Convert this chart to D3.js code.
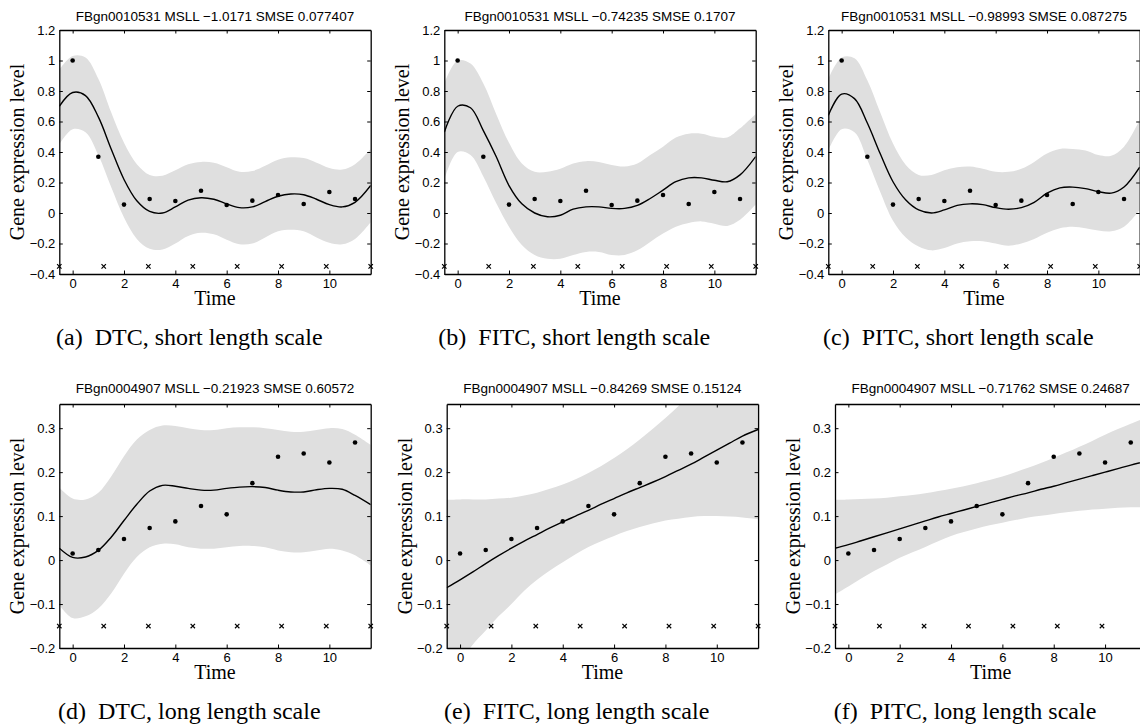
<!DOCTYPE html>
<html>
<head>
<meta charset="utf-8">
<script src="https://cdn.jsdelivr.net/npm/d3@7"></script>
<style>
  body { margin: 0; background: #fff; }
  svg { display: block; }
</style>
</head>
<body>
<script>
// observed gene expression, time points 0..11
var times = [0, 1, 2, 3, 4, 5, 6, 7, 8, 9, 10, 11];
var shortObs = [1.0, 0.369, 0.055, 0.092, 0.079, 0.146, 0.052, 0.081, 0.118, 0.059, 0.138, 0.092];
var longObs = [0.015, 0.023, 0.048, 0.073, 0.088, 0.123, 0.104, 0.175, 0.235, 0.2425, 0.222, 0.2675];

// inducing inputs (crosses)
var inducingX = [-0.52, 1.21, 2.95, 4.68, 6.41, 8.14, 9.88, 11.61];
var shortInducingY = -0.35;
var longInducingY = -0.15;

// grid the predictive curves were read on
var gridT = [-0.52, 0, 0.5, 1, 1.5, 2, 2.5, 3, 3.5, 4, 4.5, 5, 5.5, 6, 6.5, 7, 7.5, 8, 8.5, 9, 9.5, 10, 10.5, 11, 11.61];

var dtcShortMean  = [0.70, 0.79, 0.77, 0.63, 0.42, 0.22, 0.08, 0.01, 0.0, 0.04, 0.085, 0.10, 0.09, 0.06, 0.035, 0.04, 0.075, 0.11, 0.125, 0.12, 0.09, 0.055, 0.04, 0.07, 0.18];
var dtcShortUpper = [0.94, 1.03, 1.02, 0.88, 0.66, 0.46, 0.32, 0.25, 0.245, 0.28, 0.32, 0.335, 0.33, 0.30, 0.27, 0.275, 0.31, 0.35, 0.365, 0.36, 0.33, 0.295, 0.285, 0.32, 0.42];
var dtcShortLower = [0.45, 0.55, 0.53, 0.38, 0.17, -0.03, -0.17, -0.235, -0.24, -0.20, -0.15, -0.13, -0.14, -0.175, -0.205, -0.20, -0.16, -0.12, -0.11, -0.12, -0.16, -0.195, -0.205, -0.17, -0.06];

var fitcShortMean  = [0.53, 0.70, 0.69, 0.54, 0.37, 0.18, 0.06, 0.0, -0.025, -0.015, 0.025, 0.04, 0.04, 0.03, 0.03, 0.05, 0.095, 0.15, 0.205, 0.23, 0.23, 0.215, 0.205, 0.25, 0.37];
var fitcShortUpper = [0.85, 1.0, 0.98, 0.85, 0.65, 0.46, 0.325, 0.27, 0.27, 0.29, 0.325, 0.34, 0.335, 0.315, 0.305, 0.325, 0.38, 0.435, 0.495, 0.52, 0.52, 0.50, 0.495, 0.555, 0.65];
var fitcShortLower = [0.22, 0.40, 0.38, 0.24, 0.065, -0.09, -0.21, -0.275, -0.30, -0.30, -0.275, -0.255, -0.255, -0.275, -0.275, -0.245, -0.19, -0.135, -0.09, -0.065, -0.055, -0.07, -0.085, -0.045, 0.055];

var pitcShortMean  = [0.64, 0.78, 0.75, 0.59, 0.39, 0.205, 0.085, 0.02, 0.0, 0.02, 0.05, 0.06, 0.055, 0.035, 0.025, 0.035, 0.07, 0.13, 0.165, 0.17, 0.16, 0.14, 0.13, 0.17, 0.30];
var pitcShortUpper = [0.88, 1.02, 1.015, 0.87, 0.66, 0.455, 0.315, 0.25, 0.25, 0.28, 0.30, 0.305, 0.29, 0.27, 0.27, 0.29, 0.335, 0.39, 0.42, 0.42, 0.41, 0.38, 0.375, 0.435, 0.61];
var pitcShortLower = [0.41, 0.55, 0.53, 0.35, 0.14, -0.05, -0.16, -0.22, -0.245, -0.23, -0.20, -0.185, -0.185, -0.20, -0.215, -0.20, -0.17, -0.13, -0.10, -0.09, -0.10, -0.115, -0.12, -0.09, 0.02];

var dtcLongMean  = [0.027, 0.006, 0.007, 0.022, 0.052, 0.09, 0.127, 0.157, 0.17, 0.168, 0.163, 0.159, 0.159, 0.163, 0.166, 0.167, 0.165, 0.159, 0.155, 0.155, 0.16, 0.163, 0.161, 0.147, 0.126];
var dtcLongUpper = [0.165, 0.14, 0.138, 0.153, 0.19, 0.236, 0.274, 0.296, 0.306, 0.305, 0.30, 0.296, 0.296, 0.30, 0.302, 0.302, 0.30, 0.296, 0.292, 0.292, 0.296, 0.30, 0.298, 0.285, 0.262];
var dtcLongLower = [-0.102, -0.132, -0.128, -0.11, -0.076, -0.031, 0.007, 0.029, 0.037, 0.036, 0.029, 0.026, 0.026, 0.029, 0.032, 0.032, 0.029, 0.022, 0.018, 0.018, 0.022, 0.026, 0.022, 0.011, -0.012];

var fitcLongMean  = [-0.063, -0.045, -0.027, -0.008, 0.01, 0.027, 0.043, 0.058, 0.073, 0.087, 0.10, 0.113, 0.127, 0.14, 0.153, 0.165, 0.177, 0.19, 0.204, 0.218, 0.234, 0.25, 0.266, 0.282, 0.297];
var fitcLongUpper = [0.137, 0.138, 0.138, 0.138, 0.14, 0.142, 0.147, 0.153, 0.162, 0.172, 0.184, 0.198, 0.214, 0.232, 0.252, 0.274, 0.298, 0.323, 0.35, 0.377, 0.405, 0.433, 0.46, 0.49, 0.525];
var fitcLongLower = [-0.29, -0.235, -0.192, -0.16, -0.128, -0.1, -0.07, -0.045, -0.024, -0.005, 0.013, 0.03, 0.043, 0.055, 0.066, 0.075, 0.083, 0.09, 0.094, 0.098, 0.1, 0.1, 0.099, 0.097, 0.093];

var pitcLongMean  = [0.027, 0.035, 0.044, 0.053, 0.062, 0.071, 0.08, 0.089, 0.098, 0.106, 0.114, 0.122, 0.13, 0.138, 0.146, 0.153, 0.161, 0.168, 0.176, 0.184, 0.192, 0.2, 0.208, 0.216, 0.225];
var pitcLongUpper = [0.137, 0.138, 0.139, 0.14, 0.142, 0.145, 0.148, 0.152, 0.157, 0.162, 0.168, 0.175, 0.182, 0.19, 0.2, 0.21, 0.221, 0.233, 0.245, 0.258, 0.271, 0.285, 0.298, 0.31, 0.325];
var pitcLongLower = [-0.078, -0.06, -0.042, -0.025, -0.01, 0.005, 0.018, 0.03, 0.043, 0.055, 0.064, 0.072, 0.079, 0.085, 0.091, 0.097, 0.101, 0.105, 0.109, 0.112, 0.115, 0.117, 0.119, 0.12, 0.12];

var xTicks = [0, 2, 4, 6, 8, 10];
var yTicksShort = [-0.4, -0.2, 0, 0.2, 0.4, 0.6, 0.8, 1, 1.2];
var yTicksLong = [-0.2, -0.1, 0, 0.1, 0.2, 0.3];

var titles = [
  "FBgn0010531 MSLL \u22121.0171 SMSE 0.077407",
  "FBgn0010531 MSLL \u22120.74235 SMSE 0.1707",
  "FBgn0010531 MSLL \u22120.98993 SMSE 0.087275",
  "FBgn0004907 MSLL \u22120.21923 SMSE 0.60572",
  "FBgn0004907 MSLL \u22120.84269 SMSE 0.15124",
  "FBgn0004907 MSLL \u22120.71762 SMSE 0.24687"
];
var captionTags = ["(a)", "(b)", "(c)", "(d)", "(e)", "(f)"];
var captions = [
  "DTC, short length scale", "FITC, short length scale", "PITC, short length scale",
  "DTC, long length scale", "FITC, long length scale", "PITC, long length scale"
];

var means  = [dtcShortMean, fitcShortMean, pitcShortMean, dtcLongMean, fitcLongMean, pitcLongMean];
var uppers = [dtcShortUpper, fitcShortUpper, pitcShortUpper, dtcLongUpper, fitcLongUpper, pitcLongUpper];
var lowers = [dtcShortLower, fitcShortLower, pitcShortLower, dtcLongLower, fitcLongLower, pitcLongLower];

// layout
var plotW = 311.4, plotH = 244;
var rowTops = [30, 404];
var titleGap = [9, 11];
var colLefts = [[59.3, 444.3, 828.3], [59.3, 446.7, 835]];

var svg = d3.select("body").append("svg")
    .attr("width", 1140)
    .attr("height", 725);

var sans = "'Liberation Sans', Arial, Helvetica, sans-serif";
var serif = "'Liberation Serif', 'Times New Roman', Times, serif";

d3.range(6).forEach(function(i) {
  var row = Math.floor(i / 3), col = i % 3;
  var left = colLefts[row][col], top = rowTops[row];
  var isShort = row === 0;

  var x = d3.scaleLinear().domain([-0.52, 11.61]).range([0, plotW]);
  var y = d3.scaleLinear()
      .domain(isShort ? [-0.4, 1.2] : [-0.2, 0.355])
      .range([plotH, 0]);

  var g = svg.append("g").attr("transform", "translate(" + left + "," + top + ")");

  g.append("clipPath").attr("id", "clip" + i)
    .append("rect").attr("width", plotW).attr("height", plotH);

  var band = gridT.map(function(t, k) { return {t: t, lo: lowers[i][k], hi: uppers[i][k], m: means[i][k]}; });

  var area = d3.area()
      .x(function(d) { return x(d.t); })
      .y0(function(d) { return y(d.lo); })
      .y1(function(d) { return y(d.hi); })
      .curve(d3.curveCatmullRom);

  var line = d3.line()
      .x(function(d) { return x(d.t); })
      .y(function(d) { return y(d.m); })
      .curve(d3.curveCatmullRom);

  var plot = g.append("g").attr("clip-path", "url(#clip" + i + ")");
  plot.append("path").datum(band)
      .attr("d", area)
      .attr("fill", "#dfdfdf");
  plot.append("path").datum(band)
      .attr("d", line)
      .attr("fill", "none")
      .attr("stroke", "#000")
      .attr("stroke-width", 1.4);

  var obs = isShort ? shortObs : longObs;
  g.selectAll("circle.obs")
    .data(times)
    .enter().append("circle")
      .attr("class", "obs")
      .attr("cx", function(d) { return x(d); })
      .attr("cy", function(d, k) { return y(obs[k]); })
      .attr("r", 2.3)
      .attr("fill", "#000");

  var iy = y(isShort ? shortInducingY : longInducingY);
  g.selectAll("path.ind")
    .data(inducingX)
    .enter().append("path")
      .attr("class", "ind")
      .attr("d", function(d) {
        var cx = x(d), s = 2.2;
        return "M" + (cx - s) + "," + (iy - s) + "L" + (cx + s) + "," + (iy + s) +
               "M" + (cx - s) + "," + (iy + s) + "L" + (cx + s) + "," + (iy - s);
      })
      .attr("stroke", "#000")
      .attr("stroke-width", 1.2);

  // axes, ticks inward on all four sides
  var yTicks = isShort ? yTicksShort : yTicksLong;
  var fmt = d3.format("~g");

  var axB = g.append("g").attr("transform", "translate(0," + plotH + ")")
      .call(d3.axisBottom(x).tickValues(xTicks).tickSizeInner(-3.5).tickSizeOuter(0).tickPadding(5).tickFormat(fmt));
  var axT = g.append("g")
      .call(d3.axisTop(x).tickValues(xTicks).tickSizeInner(-3.5).tickSizeOuter(0).tickFormat(""));
  var axL = g.append("g")
      .call(d3.axisLeft(y).tickValues(yTicks).tickSizeInner(-3.5).tickSizeOuter(0).tickPadding(4).tickFormat(fmt));
  var axR = g.append("g").attr("transform", "translate(" + plotW + ",0)")
      .call(d3.axisRight(y).tickValues(yTicks).tickSizeInner(-3.5).tickSizeOuter(0).tickFormat(""));

  [axB, axT, axL, axR].forEach(function(a) {
    a.selectAll("path.domain").attr("stroke", "#000").attr("stroke-width", 1.3);
    a.selectAll("line").attr("stroke", "#000").attr("stroke-width", 1);
    a.selectAll("text")
      .attr("fill", "#000")
      .style("font-family", sans)
      .style("font-size", "13px");
  });
  axB.selectAll("text").attr("dy", "0.71em");

  g.append("text")
    .attr("x", plotW / 2)
    .attr("y", -titleGap[row])
    .attr("text-anchor", "middle")
    .style("font-family", sans)
    .style("font-size", "13.5px")
    .text(titles[i]);

  g.append("text")
    .attr("x", plotW / 2)
    .attr("y", plotH + 30.5)
    .attr("text-anchor", "middle")
    .style("font-family", serif)
    .style("font-size", "20px")
    .text("Time");

  g.append("text")
    .attr("transform", "translate(-35," + (plotH / 2) + ") rotate(-90)")
    .attr("text-anchor", "middle")
    .style("font-family", serif)
    .style("font-size", "20px")
    .text("Gene expression level");

  var cap = g.append("text")
    .attr("x", 130)
    .attr("y", plotH + 70.5)
    .attr("text-anchor", "middle")
    .style("font-family", serif)
    .style("font-size", "24px");
  cap.append("tspan").text(captionTags[i]);
  cap.append("tspan").attr("dx", 12).text(captions[i]);
});
</script>
</body>
</html>
